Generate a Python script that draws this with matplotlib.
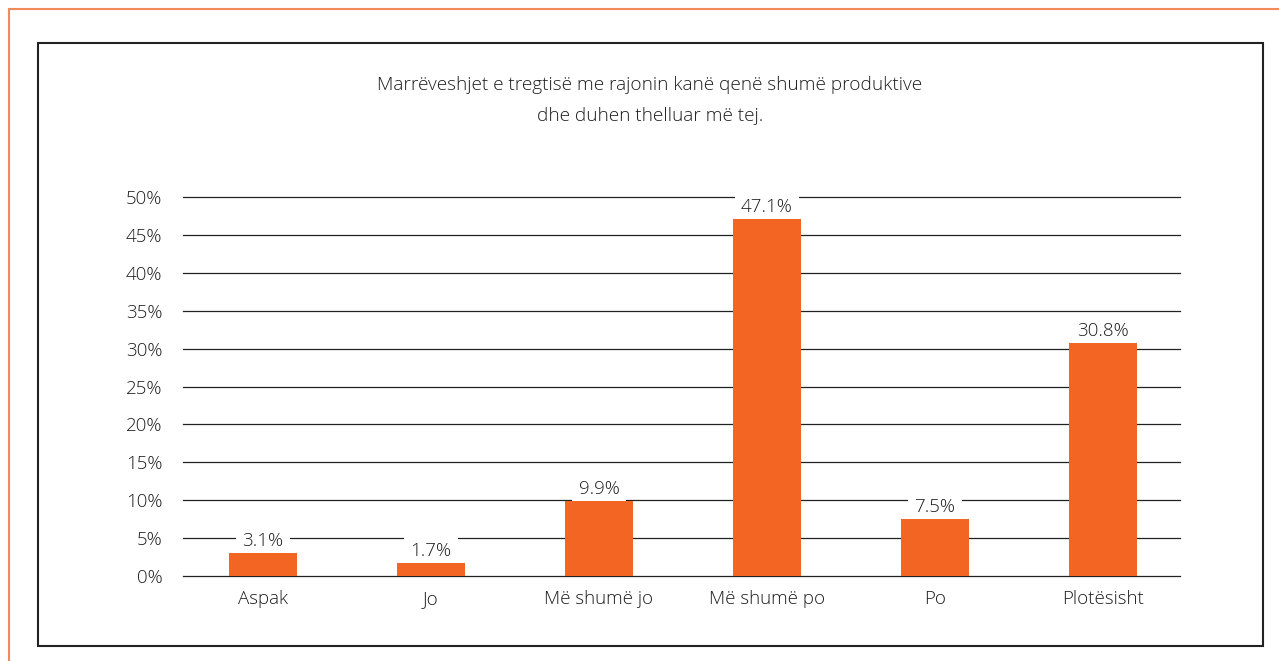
import matplotlib
matplotlib.use("Agg")
import matplotlib.pyplot as plt
from matplotlib.patches import Rectangle
from matplotlib.lines import Line2D

categories = ["Aspak", "Jo", "Më shumë jo", "Më shumë po", "Po", "Plotësisht"]
values = [3.1, 1.7, 9.9, 47.1, 7.5, 30.8]
yticks = [0, 5, 10, 15, 20, 25, 30, 35, 40, 45, 50]
title = "Marrëveshjet e tregtisë me rajonin kanë qenë shumë produktive\ndhe duhen thelluar më tej."

plt.rcParams['font.family'] = ['Open Sans', 'DejaVu Sans']
plt.rcParams['font.weight'] = 300
W, H = 1279, 661
fig = plt.figure(figsize=(W/100, H/100), dpi=100)
fig.patch.set_facecolor("white")

TXT = "#1e1e1e"

# outer orange frame lines
fig.add_artist(Line2D([9/W, 1], [1-9/H, 1-9/H], color="#F08A5A", lw=1.5, transform=fig.transFigure))
fig.add_artist(Line2D([9/W, 9/W], [0, 1-9/H], color="#F08A5A", lw=1.5, transform=fig.transFigure))
# black box
fig.add_artist(Rectangle((38/W, 1-646/H), (1263-38)/W, (646-43)/H, fill=False,
                         edgecolor="#222222", lw=1.5, transform=fig.transFigure))

left, right, top, bottom = 179, 1187, 197, 576
ax = fig.add_axes([left/W, 1-bottom/H, (right-left)/W, (bottom-top)/H])
x = list(range(len(categories)))
ax.bar(x, values, width=0.41, color="#F26522", zorder=5)
ax.set_xlim(-0.5, len(categories)-0.5)
ax.set_ylim(0, 50)
ax.set_yticks(yticks)
ax.set_yticklabels([f"{v}%" for v in yticks], fontsize=13.5, color=TXT)
ax.set_xticks(x)
ax.set_xticklabels(categories, fontsize=13.5, color=TXT)
ax.tick_params(length=0, pad=12)
ax.tick_params(axis='x', pad=10)
for s in ax.spines.values():
    s.set_visible(False)
for v in yticks:
    ax.axhline(v, xmin=4/1008, xmax=1001/1008, color="#222222", lw=0.9, zorder=1, clip_on=False)
for xi, v in zip(x, values):
    ax.text(xi, v + 0.35, f"{v}%", ha="center", va="bottom", fontsize=13.5, color=TXT,
            zorder=4, bbox=dict(facecolor="white", edgecolor="none", pad=4.5))

fig.text(650/W, 1-100.5/H, title, ha="center", va="center", fontsize=13.7,
         color=TXT, linespacing=1.9)

fig.savefig("out.png", dpi=100, facecolor="white")
